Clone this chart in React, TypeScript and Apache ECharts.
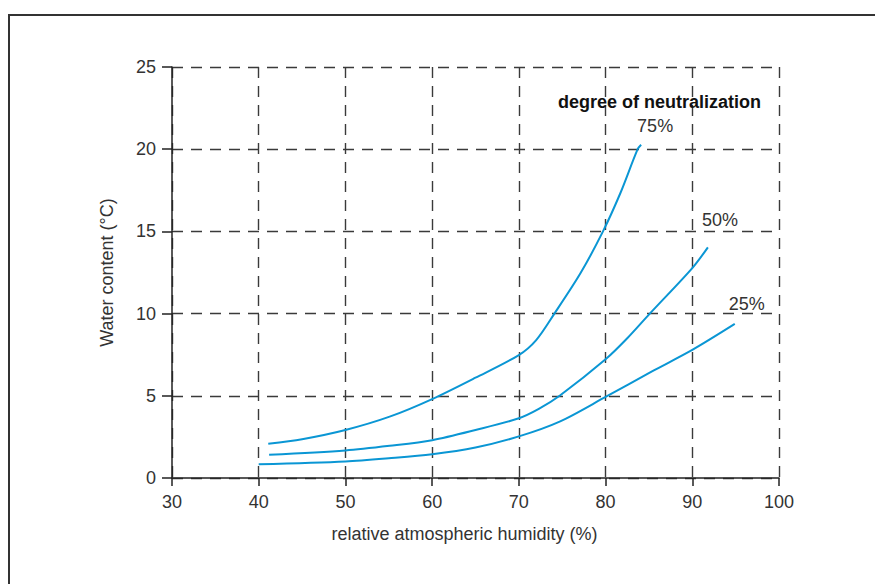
import React, { useEffect, useRef } from "react";
import * as echarts from "echarts";

// Degree of neutralization series (labels)
const seriesNames = ["75%", "50%", "25%"];

// Relative atmospheric humidity (%) and water content readings per series
const humidity75 = [41.1, 45, 50, 55.1, 60, 65, 70, 72, 74.1, 77.1, 79.7, 81.7, 83.7, 84.1];
const water75 = [2.09, 2.36, 2.92, 3.73, 4.8, 6.1, 7.48, 8.39, 10, 12.45, 15, 17.32, 20, 20.27];

const humidity50 = [41.2, 50, 55.1, 60, 65, 70, 72.3, 74.7, 80, 82.5, 85.1, 90, 91.8];
const water50 = [1.42, 1.68, 1.96, 2.3, 2.92, 3.63, 4.2, 5, 7.22, 8.5, 10, 12.77, 14.03];

const humidity25 = [40, 50, 55, 60, 65, 70, 74.7, 80, 85.3, 90, 94.9];
const water25 = [0.83, 1.01, 1.2, 1.44, 1.85, 2.53, 3.43, 4.93, 6.47, 7.79, 9.37];

// Axis ticks
const xMin = 30;
const xMax = 100;
const xStep = 10;
const yMin = 0;
const yMax = 25;
const yStep = 5;

const FONT = "'Liberation Sans', Arial, Helvetica, sans-serif";
const LINE_COLOR = "#0a96d4";
const TEXT_COLOR = "#333";

export default function App() {
  const ref = useRef<HTMLDivElement>(null);

  useEffect(() => {
    if (!ref.current) return;
    const chart = echarts.init(ref.current, undefined, { renderer: "svg" });

    const xs = [humidity75, humidity50, humidity25];
    const ys = [water75, water50, water25];
    const labelOffsets = [
      [14, -19],
      [12, -27],
      [12, -20],
    ];

    const series = seriesNames.map((name, i) => {
      const data = xs[i].map((x, k) => [x, ys[i][k]]);
      const last = data[data.length - 1];
      return {
        type: "line",
        name,
        data,
        smooth: 0.3,
        showSymbol: false,
        symbol: "none",
        lineStyle: { color: LINE_COLOR, width: 2 },
        markPoint: {
          symbol: "circle",
          symbolSize: 1,
          itemStyle: { color: "rgba(0,0,0,0)" },
          label: {
            show: true,
            position: "inside",
            formatter: name,
            offset: labelOffsets[i],
            fontSize: 18,
            fontFamily: FONT,
            color: TEXT_COLOR,
          },
          data: [{ coord: last }],
        },
      };
    });

    chart.setOption({
      animation: false,
      backgroundColor: "#fff",
      grid: { left: 172, right: 96, top: 67, bottom: 106, containLabel: false },
      title: {
        text: "degree of neutralization",
        left: 558,
        top: 93,
        padding: 0,
        textStyle: {
          fontSize: 18,
          fontWeight: "bold",
          fontFamily: FONT,
          color: "#111",
        },
      },
      xAxis: {
        type: "value",
        min: xMin,
        max: xMax,
        interval: xStep,
        name: "relative atmospheric humidity (%)",
        nameLocation: "middle",
        nameGap: 47,
        nameTextStyle: {
          fontSize: 18,
          fontFamily: FONT,
          color: TEXT_COLOR,
          padding: [0, 22, 0, 0],
        },
        axisLine: { show: true, onZero: false, lineStyle: { color: "#222", width: 1.5 } },
        axisTick: { show: true, length: 8, lineStyle: { color: "#222", width: 1.5 } },
        axisLabel: { fontSize: 18, fontFamily: FONT, color: TEXT_COLOR, margin: 15 },
        splitLine: {
          show: true,
          lineStyle: { color: "#3a3a3a", width: 1.4, type: [11, 8] },
        },
      },
      yAxis: {
        type: "value",
        min: yMin,
        max: yMax,
        interval: yStep,
        name: "Water content (°C)",
        nameLocation: "middle",
        nameGap: 56,
        nameRotate: 90,
        nameTextStyle: { fontSize: 18, fontFamily: FONT, color: TEXT_COLOR },
        axisLine: { show: true, lineStyle: { color: "#222", width: 1.5 } },
        axisTick: { show: true, length: 10, lineStyle: { color: "#222", width: 1.5 } },
        axisLabel: { fontSize: 18, fontFamily: FONT, color: TEXT_COLOR, margin: 16 },
        splitLine: {
          show: true,
          lineStyle: { color: "#3a3a3a", width: 1.4, type: [11, 8] },
        },
      },
      graphic: [
        {
          type: "rect",
          silent: true,
          z: -10,
          shape: { x: 9, y: 15, width: 1000, height: 1000 },
          style: { fill: "none", stroke: "#333", lineWidth: 2 },
        },
      ],
      series,
    });

    return () => chart.dispose();
  }, []);

  return (
    <div
      ref={ref}
      style={{ position: "fixed", left: 0, top: 0, width: 875, height: 584, background: "#fff" }}
    />
  );
}
